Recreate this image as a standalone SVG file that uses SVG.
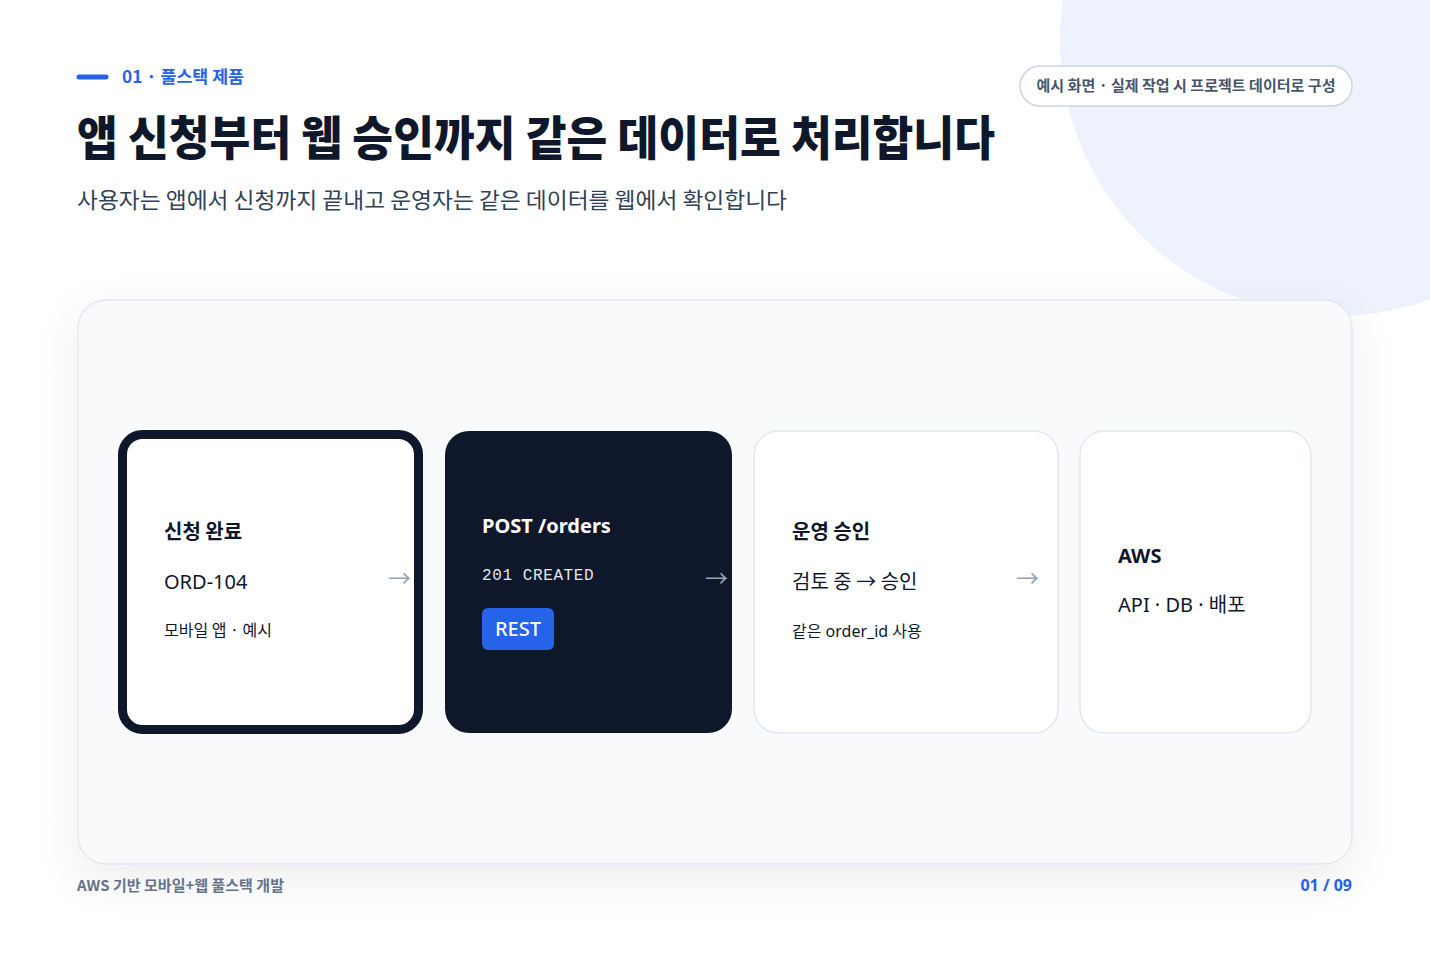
<svg xmlns="http://www.w3.org/2000/svg" width="1430" height="953" viewBox="0 0 1430 953">
<defs>
<filter id="sh" x="-10%" y="-10%" width="120%" height="130%">
<feDropShadow dx="0" dy="14" stdDeviation="22" flood-color="#0f172a" flood-opacity="0.07"/>
</filter>
<style>
.k{font-family:"Noto Sans CJK KR","Noto Sans",sans-serif}
.n{font-family:"Noto Sans","Noto Sans CJK KR",sans-serif}
.h{font-size:20px;font-weight:700;fill:#0f172a}
.m{font-size:20px;font-weight:400;fill:#0f172a}
.s{font-size:16px;font-weight:400;fill:#0f172a}
.arr{font-family:"Noto Sans CJK KR","DejaVu Sans",sans-serif;font-size:23px;fill:#94a3b8}
.card{fill:#ffffff;stroke:#e2e8f0;stroke-width:1.5}
</style>
</defs>
<rect width="1430" height="953" fill="#ffffff"/>
<circle cx="1336" cy="40" r="276" fill="#eef2fd"/>

<g id="header">
<line x1="79" y1="77" x2="106" y2="77" stroke="#2563eb" stroke-width="5" stroke-linecap="round"/>
<text class="k" x="122" y="83" font-size="17" font-weight="700" fill="#2563eb" textLength="122" lengthAdjust="spacingAndGlyphs">01 · 풀스택 제품</text>
<text class="k" x="77" y="155" font-size="47" font-weight="900" fill="#0f172a" textLength="918" lengthAdjust="spacingAndGlyphs">앱 신청부터 웹 승인까지 같은 데이터로 처리합니다</text>
<text class="k" x="77" y="208" font-size="22" font-weight="400" fill="#334155" textLength="710" lengthAdjust="spacingAndGlyphs">사용자는 앱에서 신청까지 끝내고 운영자는 같은 데이터를 웹에서 확인합니다</text>
</g>

<g id="badge">
<rect x="1020" y="66" width="332" height="40" rx="20" fill="#ffffff" stroke="#cbd5e1" stroke-width="1.5"/>
<text class="k" x="1186" y="91" font-size="15" font-weight="700" fill="#475569" text-anchor="middle" textLength="299" lengthAdjust="spacingAndGlyphs">예시 화면 · 실제 작업 시 프로젝트 데이터로 구성</text>
</g>

<g id="panel">
<rect x="78" y="300" width="1274" height="564" rx="28" fill="#f8fafc" stroke="#e2e8f0" stroke-width="1.5" filter="url(#sh)"/>
</g>

<g id="node-app">
<rect x="122.5" y="434.5" width="296" height="295" rx="20" fill="#ffffff" stroke="#0f172a" stroke-width="9"/>
<text class="k h" x="164" y="539">신청 완료</text>
<text class="n m" x="164" y="589">ORD-104</text>
<text class="k s" x="164" y="636">모바일 앱 · 예시</text>
</g>

<g id="node-api">
<rect x="445" y="431" width="287" height="302" rx="24" fill="#0f172a"/>
<text class="n h" x="482" y="533" style="fill:#ffffff">POST /orders</text>
<text x="482" y="580" font-family="'Liberation Mono','DejaVu Sans Mono',monospace" font-size="16" font-weight="400" fill="#e2e8f0" letter-spacing="0.6">201 CREATED</text>
<rect x="482" y="608" width="72" height="42" rx="6" fill="#2563eb"/>
<text class="n" x="518" y="636" font-size="20" font-weight="500" fill="#ffffff" text-anchor="middle">REST</text>
</g>

<g id="node-admin">
<rect class="card" x="754" y="431" width="304" height="302" rx="24"/>
<text class="k h" x="792" y="539">운영 승인</text>
<text class="k m" x="792" y="589">검토 중 → 승인</text>
<text class="n s" x="792" y="637">같은 order_id 사용</text>
</g>

<g id="node-aws">
<rect class="card" x="1080" y="431" width="231" height="302" rx="24"/>
<text class="n h" x="1118" y="563">AWS</text>
<text class="n m" x="1118" y="612">API · DB · 배포</text>
</g>

<g id="connectors">
<text class="arr" x="388" y="587">→</text>
<text class="arr" x="705" y="587">→</text>
<text class="arr" x="1016" y="587">→</text>
</g>

<g id="footer">
<text class="k" x="77" y="891" font-size="15" font-weight="700" fill="#64748b">AWS 기반 모바일+웹 풀스택 개발</text>
<text class="n" x="1352" y="891" font-size="16" font-weight="700" fill="#2563eb" text-anchor="end">01 / 09</text>
</g>
</svg>
